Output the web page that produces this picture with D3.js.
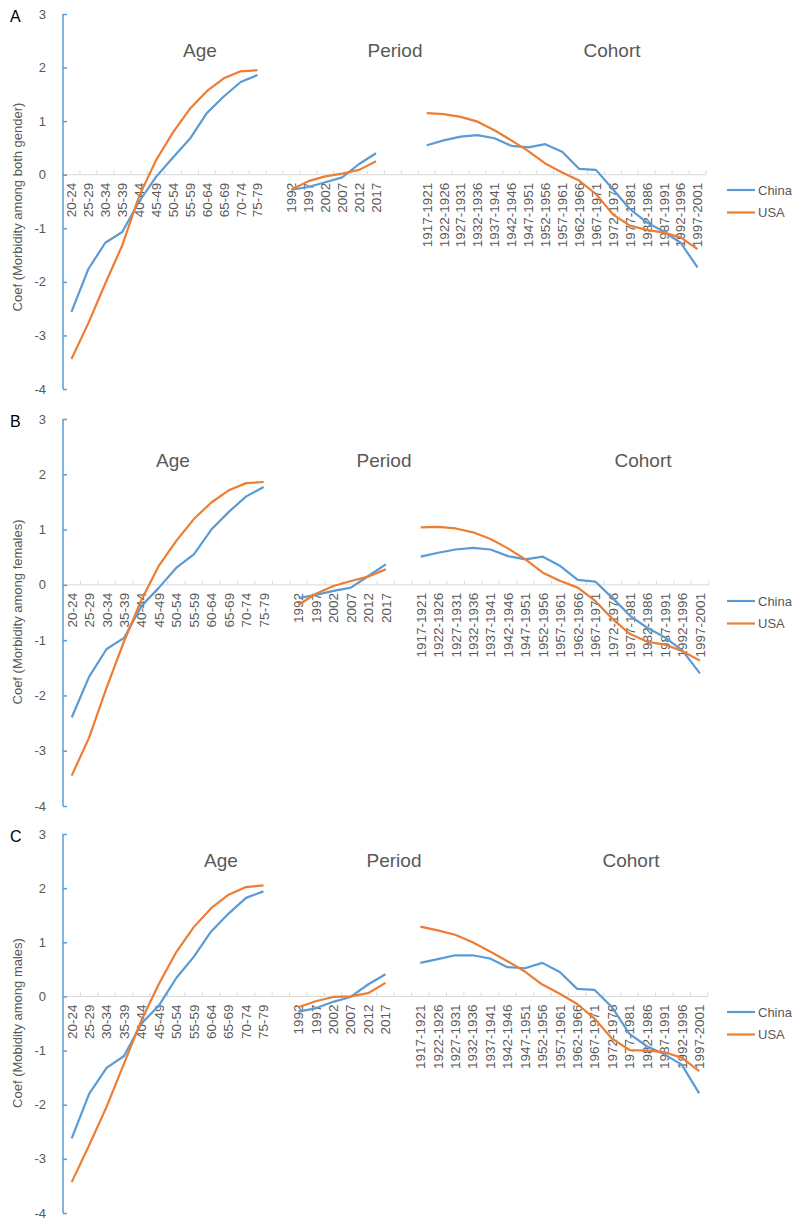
<!DOCTYPE html>
<html>
<head>
<meta charset="utf-8">
<script src="https://cdn.jsdelivr.net/npm/d3@7"></script>
<style>
  html, body { margin: 0; padding: 0; background: #fff; }
  svg { display: block; font-family: Arial, "Liberation Sans", sans-serif; }
</style>
</head>
<body>
<svg id="chart" width="800" height="1225"></svg>
<script>
// ---------------- DATA ----------------
const ageGroups = ["20-24","25-29","30-34","35-39","40-44","45-49","50-54","55-59","60-64","65-69","70-74","75-79"];
const periods = ["1992","1997","2002","2007","2012","2017"];
const cohorts = ["1917-1921","1922-1926","1927-1931","1932-1936","1937-1941","1942-1946","1947-1951","1952-1956","1957-1961","1962-1966","1967-1971","1972-1976","1977-1981","1982-1986","1987-1991","1992-1996","1997-2001"];
const yTicks = [-4, -3, -2, -1, 0, 1, 2, 3];
const seriesNames = ["China", "USA"];

// Panel A: both genders
const chinaAgeA    = [-2.56,-1.76,-1.27,-1.07,-0.50,-0.04,0.32,0.67,1.15,1.46,1.73,1.86];
const usaAgeA      = [-3.44,-2.77,-2.03,-1.32,-0.40,0.27,0.79,1.23,1.56,1.80,1.93,1.95];
const chinaPeriodA = [-0.28,-0.23,-0.14,-0.05,0.20,0.40];
const usaPeriodA   = [-0.28,-0.12,-0.03,0.02,0.09,0.25];
const chinaCohortA = [0.55,0.64,0.71,0.74,0.68,0.54,0.51,0.57,0.43,0.11,0.09,-0.27,-0.64,-0.89,-1.06,-1.27,-1.73];
const usaCohortA   = [1.15,1.13,1.08,0.99,0.83,0.64,0.44,0.21,0.04,-0.11,-0.36,-0.74,-0.95,-1.03,-1.08,-1.17,-1.39];

// Panel B: females
const chinaAgeB    = [-2.40,-1.66,-1.16,-0.96,-0.38,-0.05,0.31,0.55,1.00,1.32,1.60,1.77];
const usaAgeB      = [-3.45,-2.76,-1.86,-1.02,-0.27,0.35,0.80,1.19,1.49,1.71,1.84,1.86];
const chinaPeriodB = [-0.24,-0.18,-0.11,-0.05,0.16,0.37];
const usaPeriodB   = [-0.36,-0.16,-0.02,0.07,0.15,0.28];
const chinaCohortB = [0.51,0.58,0.64,0.67,0.64,0.52,0.46,0.51,0.34,0.09,0.06,-0.24,-0.56,-0.78,-0.95,-1.19,-1.60];
const usaCohortB   = [1.04,1.05,1.02,0.95,0.83,0.66,0.46,0.22,0.07,-0.05,-0.29,-0.62,-0.89,-1.03,-1.08,-1.20,-1.37];

// Panel C: males
const chinaAgeC    = [-2.62,-1.80,-1.32,-1.10,-0.50,-0.17,0.34,0.73,1.20,1.53,1.82,1.94];
const usaAgeC      = [-3.43,-2.75,-2.04,-1.24,-0.44,0.23,0.82,1.28,1.63,1.88,2.02,2.05];
const chinaPeriodC = [-0.28,-0.22,-0.10,-0.01,0.22,0.41];
const usaPeriodC   = [-0.20,-0.09,-0.01,0.00,0.06,0.25];
const chinaCohortC = [0.62,0.69,0.76,0.76,0.70,0.54,0.52,0.62,0.45,0.14,0.12,-0.20,-0.69,-0.92,-1.07,-1.26,-1.79];
const usaCohortC   = [1.29,1.22,1.14,1.00,0.83,0.65,0.46,0.22,0.05,-0.14,-0.41,-0.78,-0.99,-1.00,-1.03,-1.13,-1.38];

// ---------------- LAYOUT ----------------
const colors = { China: "#5b9bd5", USA: "#ed7d31" };
const textGray = "#595959";

const panels = [
  { letter: "A", yLabel: "Coef (Morbidity among both gender)", top: 14, bottom: 389, slot: 16.92, gap2: 2,
    labelY: 57, labelX: [200, 395, 612], legendY: 190, yLabelC: 207,
    china: [chinaAgeA, chinaPeriodA, chinaCohortA], usa: [usaAgeA, usaPeriodA, usaCohortA] },
  { letter: "B", yLabel: "Coef (Morbidity among females)", top: 419, bottom: 806, slot: 17.45, gap2: 1,
    labelY: 467, labelX: [173, 384, 643], legendY: 601, yLabelC: 612,
    china: [chinaAgeB, chinaPeriodB, chinaCohortB], usa: [usaAgeB, usaPeriodB, usaCohortB] },
  { letter: "C", yLabel: "Coef (Mobidity among males)", top: 834, bottom: 1213, slot: 17.43, gap2: 1,
    labelY: 867, labelX: [221, 394, 631], legendY: 1012, yLabelC: 1023,
    china: [chinaAgeC, chinaPeriodC, chinaCohortC], usa: [usaAgeC, usaPeriodC, usaCohortC] }
];
const groupTitles = ["Age", "Period", "Cohort"];
const axisX = 63;

const svg = d3.select("#chart");

panels.forEach(p => {
  const groups = [ageGroups.map(d => "a|" + d), periods.map(d => "p|" + d), cohorts.map(d => "c|" + d)];
  const domain = [...groups[0], "gap|1", ...groups[1]];
  for (let i = 0; i < p.gap2; i++) domain.push("gap|2" + i);
  domain.push(...groups[2]);

  const x = d3.scaleBand().domain(domain).range([axisX, axisX + domain.length * p.slot]).padding(0);
  const y = d3.scaleLinear().domain([-4, 3]).range([p.bottom, p.top]);
  const g = svg.append("g");
  const y0 = y(0);

  g.append("line").attr("x1", axisX).attr("x2", x.range()[1]).attr("y1", y0).attr("y2", y0)
    .attr("stroke", "#d9d9d9").attr("stroke-width", 1);
  const bounds = domain.map(d => x(d)).concat([x.range()[1]]);
  g.selectAll(".xt").data(bounds.slice(1)).join("line")
    .attr("x1", d => d).attr("x2", d => d).attr("y1", y0).attr("y2", y0 - 4)
    .attr("stroke", "#d9d9d9").attr("stroke-width", 1);

  g.selectAll(".xl").data(domain.filter(d => !d.startsWith("gap"))).join("text")
    .attr("transform", d => `translate(${x(d) + x.bandwidth() / 2},${y0}) rotate(-90)`)
    .attr("x", -8).attr("dy", "0.36em")
    .attr("text-anchor", "end").attr("font-size", 13.5).attr("fill", textGray)
    .text(d => d.split("|")[1]);

  const yAxis = d3.axisRight(y).tickValues(yTicks).tickSize(4).tickFormat("");
  const ya = g.append("g").attr("transform", `translate(${axisX},0)`).call(yAxis);
  ya.select(".domain").attr("stroke", "#5b9bd5").attr("stroke-width", 1.5).attr("d", `M0,${p.top}V${p.bottom}`);
  ya.selectAll(".tick line").attr("stroke", "#5b9bd5").attr("stroke-width", 1.5);
  g.selectAll(".yl").data(yTicks).join("text")
    .attr("x", 46).attr("y", d => y(d)).attr("dy", "0.35em")
    .attr("text-anchor", "end").attr("font-size", 13).attr("fill", textGray)
    .text(d => d);

  g.append("text")
    .attr("transform", `translate(22,${p.yLabelC}) rotate(-90)`)
    .attr("text-anchor", "middle").attr("font-size", 13).attr("fill", textGray)
    .text(p.yLabel);

  g.append("text").attr("x", 10).attr("y", p.top + 8).attr("font-size", 16).attr("fill", "#000")
    .text(p.letter);

  groupTitles.forEach((t, i) => {
    g.append("text").attr("x", p.labelX[i]).attr("y", p.labelY)
      .attr("text-anchor", "middle").attr("font-size", 19).attr("fill", textGray).text(t);
  });

  const line = d3.line().x(d => x(d.k) + x.bandwidth() / 2).y(d => y(d.v)).curve(d3.curveLinear);
  [["China", p.china], ["USA", p.usa]].forEach(([name, sets]) => {
    sets.forEach((vals, gi) => {
      const pts = vals.map((v, i) => ({ k: groups[gi][i], v }));
      g.append("path").attr("d", line(pts)).attr("fill", "none")
        .attr("stroke", colors[name]).attr("stroke-width", 2.2).attr("stroke-linejoin", "round");
    });
  });

  seriesNames.forEach((name, i) => {
    const ly = p.legendY + i * 22.5;
    g.append("line").attr("x1", 727).attr("x2", 755).attr("y1", ly).attr("y2", ly)
      .attr("stroke", colors[name]).attr("stroke-width", 2.2);
    g.append("text").attr("x", 758).attr("y", ly).attr("dy", "0.35em")
      .attr("font-size", 13).attr("fill", textGray).text(name);
  });
});
</script>
</body>
</html>
